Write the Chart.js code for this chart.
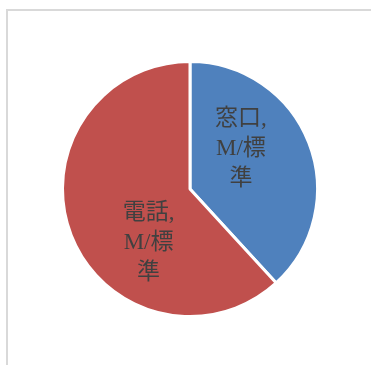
<!DOCTYPE html>
<html>
<head>
<meta charset="utf-8">
<script src="https://cdn.jsdelivr.net/npm/chart.js@4.4.0/dist/chart.umd.min.js"></script>
<style>
  html, body { margin: 0; padding: 0; background: #fff; overflow: hidden; }
  #frame {
    position: absolute; left: 6px; top: 9px;
    width: 400px; height: 400px;
    border: 2px solid #d9d9d9; box-sizing: border-box;
  }
  #pie { position: absolute; left: 0; top: 0; }
</style>
</head>
<body>
<div id="frame"></div>
<canvas id="pie" width="371" height="365"></canvas>
<script>
// 対応件数（窓口 / 電話）
const categories = ['窓口, M/標準', '電話, M/標準'];
const labelLines = [['窓口,', 'M/標', '準'], ['電話,', 'M/標', '準']];
const counts = [21, 34];
const colors = ['#4f81bd', '#c0504d'];

// スライス内にラベルを描く
const sliceLabels = {
  id: 'sliceLabels',
  afterDatasetsDraw(chart) {
    const ctx = chart.ctx;
    const meta = chart.getDatasetMeta(0);
    ctx.save();
    ctx.fillStyle = '#404040';
    ctx.font = '23px "Liberation Serif", "Noto Sans CJK JP", serif';
    ctx.textAlign = 'center';
    ctx.textBaseline = 'middle';
    meta.data.forEach((arc, i) => {
      const p = arc.getProps(['x', 'y', 'startAngle', 'endAngle', 'outerRadius'], true);
      const a = p.startAngle + (p.endAngle - p.startAngle) * 0.365;
      const r = p.outerRadius * 0.52;
      const cx = p.x + Math.cos(a) * r;
      const cy = p.y + Math.sin(a) * r + 2;
      const lines = labelLines[i];
      const lh = 30;
      lines.forEach((t, k) => {
        ctx.fillText(t, cx, cy + (k - (lines.length - 1) / 2) * lh);
      });
    });
    ctx.restore();
  }
};

new Chart(document.getElementById('pie').getContext('2d'), {
  type: 'pie',
  data: {
    labels: categories,
    datasets: [{
      data: counts,
      backgroundColor: colors,
      borderColor: '#ffffff',
      borderWidth: 3
    }]
  },
  options: {
    responsive: false,
    animation: false,
    layout: { padding: { left: 61, right: 52, top: 60, bottom: 47 } },
    plugins: {
      legend: { display: false },
      tooltip: { enabled: false }
    }
  },
  plugins: [sliceLabels]
});
</script>
</body>
</html>
